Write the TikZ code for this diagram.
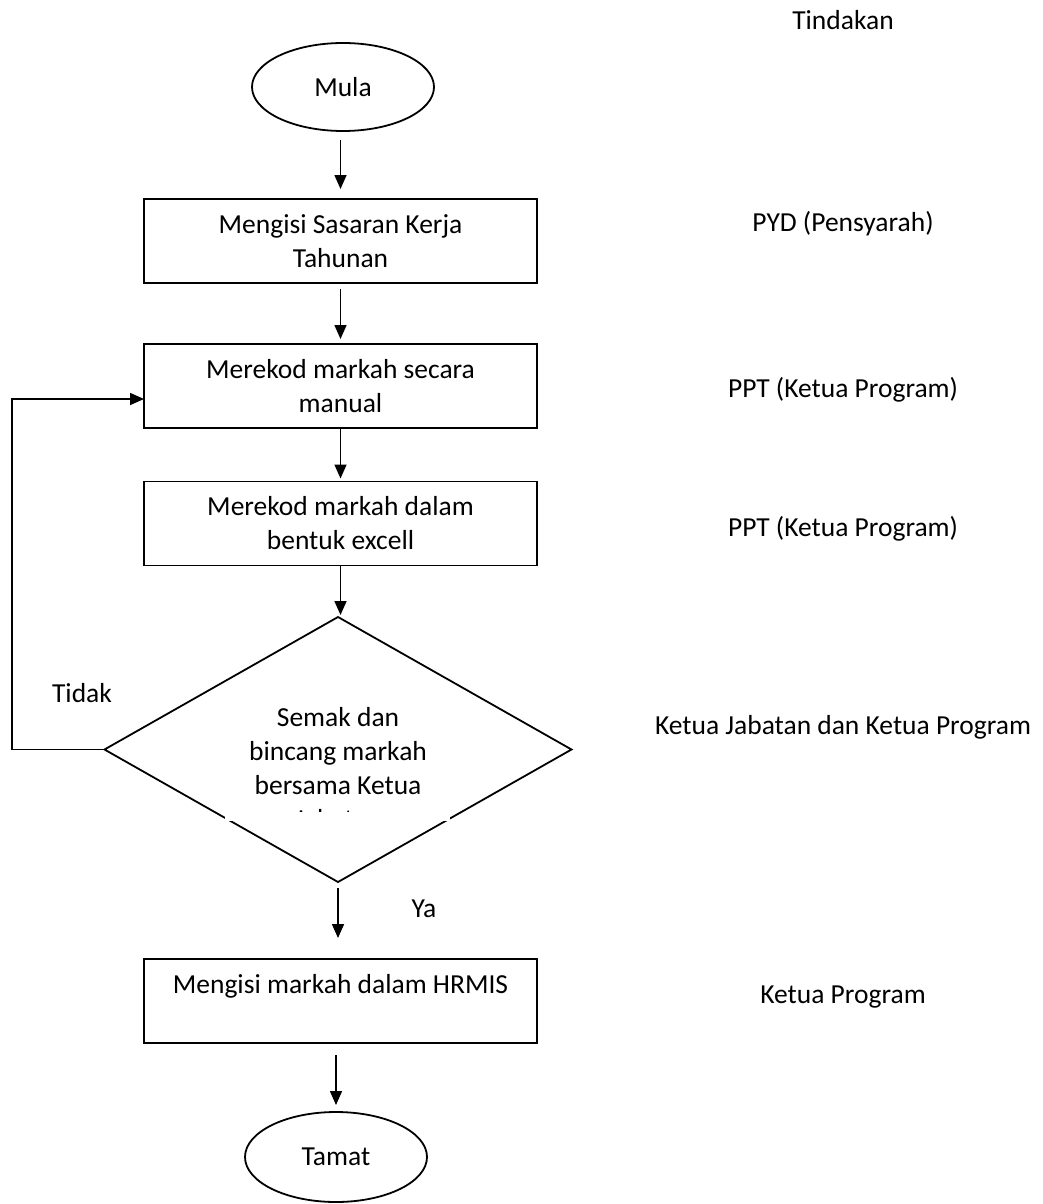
\documentclass[tikz,border=0pt]{standalone}
\usepackage{fontspec}
\setmainfont{Carlito}
\usetikzlibrary{shapes.geometric,arrows.meta,calc}
\begin{document}
\begin{tikzpicture}[x=1pt,y=-1pt,
  every node/.style={font=\fontsize{27.5}{34}\selectfont, text=black},
  flow/.style={draw, line width=1.8pt},
  stepbox/.style={flow, rectangle, minimum width=393pt, minimum height=84pt,
    align=center, inner sep=0pt, outer sep=0pt},
  terminal/.style={flow, ellipse, minimum width=182pt, minimum height=88pt,
    inner sep=0pt, outer sep=0pt},
  decision/.style={flow, diamond, minimum width=467pt, minimum height=265pt,
    inner sep=0pt, outer sep=0pt},
  arr/.style={line width=1.6pt, -{Triangle[length=14pt,width=12pt]}},
  role/.style={anchor=base},
]
\useasboundingbox (0,0) rectangle (1042,1204);

% main flow
\node[terminal] (mula) at (343,87) {Mula};
\node[stepbox] (s1) at (340.5,241) {Mengisi Sasaran Kerja\\Tahunan};
\node[stepbox] (s2) at (340.5,386) {Merekod markah secara\\manual};
\node[stepbox] (s3) at (340.5,523.5) {Merekod markah dalam\\bentuk excell};
\node[decision] (dec) at (338,749.5) {};
\node[stepbox] (s4) at (340.5,1001) {Mengisi markah dalam HRMIS\\\mbox{}};
\node[terminal, minimum height=90pt] (tamat) at (336,1157) {Tamat};

% decision text sits in a white box that clips its last line
\fill[white] (225,690) rectangle (450,821);
\begin{scope}
  \clip (225,690) rectangle (450,811);
  \node[align=center] (dtext) at (338,768) {Semak dan\\bincang markah\\bersama Ketua\\Jabatan};
\end{scope}

% connectors
\draw[arr, shorten <=9pt, shorten >=10pt] (s1.north |- mula.south) -- (s1.north);
\draw[arr, shorten <=6pt, shorten >=5pt] (s1.south) -- (s2.north);
\draw[arr, shorten >=3pt] (s2.south) -- (s3.north);
\draw[arr, shorten >=2pt] (s3.south) -- (s3.south |- dec.north);
\draw[arr, shorten <=6pt, shorten >=21pt] (dec.south) -- (dec.south |- s4.north);
\draw[arr, shorten <=12pt, shorten >=7pt] (tamat.north |- s4.south) -- (tamat.north);
\coordinate (loopL) at (12,0);
\draw[arr] (dec.west) -- (dec.west -| loopL) |- ([yshift=-13pt]s2.west);

% branch labels
\node[role] (tidak) at (82,702) {Tidak};
\node[role] (ya) at (424,917) {Ya};

% roles column
\node[role] (hdr) at (843,30) {Tindakan};
\node[role] (r1) at (843,231) {PYD (Pensyarah)};
\node[role] (r2) at (843,397) {PPT (Ketua Program)};
\node[role] (r3) at (843,536) {PPT (Ketua Program)};
\node[role] (r4) at (843,734) {Ketua Jabatan dan Ketua Program};
\node[role] (r5) at (843,1003) {Ketua Program};
\end{tikzpicture}
\end{document}
